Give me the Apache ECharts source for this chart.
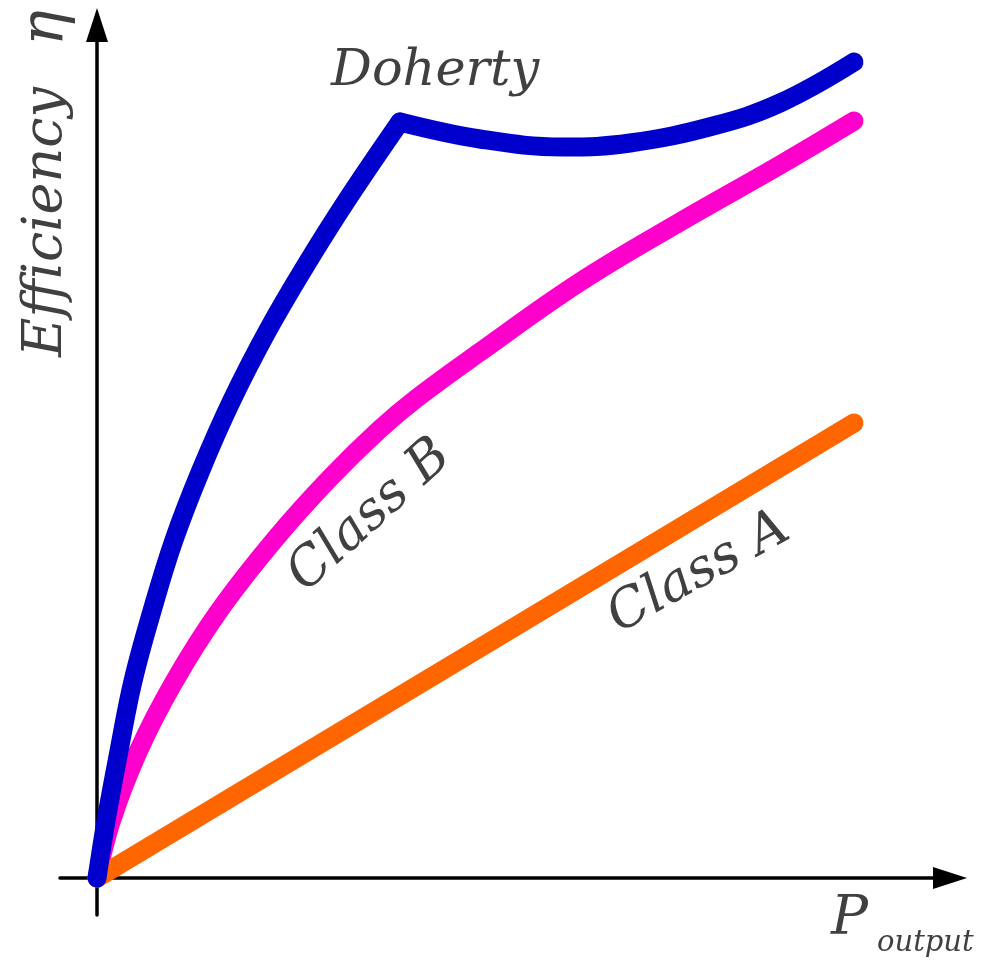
<!DOCTYPE html>
<html>
<head>
<meta charset="utf-8">
<script src="https://cdn.jsdelivr.net/npm/echarts@6/dist/echarts.min.js"></script>
<style>
  html, body { margin: 0; padding: 0; background: #fff; }
  #chart { width: 982px; height: 965px; }
</style>
</head>
<body>
<div id="chart"></div>
<script>
// values (x = output power, y = efficiency, arbitrary units)
var dohertyRise = [[0, 0], [9, 57], [22, 127], [36, 197], [55, 267], [77, 338], [104, 408], [135, 478], [171, 548], [209, 613], [250, 678], [303, 756]];
var dohertyTail = [[303, 756], [383, 739], [466, 731], [533, 735], [616, 752], [683, 775], [757, 816]];
var classB = [[0, 0], [14, 56], [41, 126], [77, 196], [122, 267], [179, 340], [233, 400], [282, 448], [320, 480], [383, 526], [483, 596], [583, 656], [683, 713], [757, 757]];
var classA = [[0, 0], [757, 455]];

var BLUE = '#0000cc', PINK = '#ff00cc', ORANGE = '#ff6600', TXT = '#404040';
var SERIF = 'DejaVu Serif';

function curve(name, data, color, smooth) {
    return {
        name: name,
        type: 'line',
        data: data,
        smooth: smooth,
        symbol: 'none',
        clip: false,
        lineStyle: { color: color, width: 19, cap: 'round', join: 'round' }
    };
}

function label(text, x, y, rot, size, align) {
    return {
        type: 'text',
        x: x,
        y: y,
        rotation: rot || 0,
        style: {
            text: text,
            fontFamily: SERIF,
            fontStyle: 'italic',
            fontSize: size,
            fill: TXT,
            textAlign: align || 'center',
            textVerticalAlign: 'middle'
        }
    };
}

var chart = echarts.init(document.getElementById('chart'));
var axisCommon = {
    type: 'value',
    min: -37,
    max: 853,
    axisLine: {
        show: true,
        onZero: true,
        symbol: ['none', 'triangle'],
        symbolSize: [22, 34],
        lineStyle: { color: '#000', width: 3.5 }
    },
    axisTick: { show: false },
    axisLabel: { show: false },
    splitLine: { show: false }
};

chart.setOption({
    animation: false,
    backgroundColor: '#fff',
    grid: { left: 60, right: 32, top: 25, bottom: 50 },
    xAxis: axisCommon,
    yAxis: axisCommon,
    series: [
        curve('Class B', classB, PINK, 0.4),
        curve('Class A', classA, ORANGE, false),
        curve('Doherty', dohertyRise, BLUE, 0.4),
        curve('Doherty tail', dohertyTail, BLUE, 0.4)
    ],
    graphic: [
        label('Doherty', 331, 72, 0, 51, 'left'),
        label('Efficiency', 47, 222, Math.PI / 2, 54),
        label('η', 47, 28, Math.PI / 2, 60),
        label('P', 831, 920, 0, 55, 'left'),
        label('output', 877, 943, 0, 29, 'left'),
        label('Class B', 370, 516, 42 * Math.PI / 180, 53),
        label('Class A', 699, 573, 29 * Math.PI / 180, 53)
    ]
});
</script>
</body>
</html>
